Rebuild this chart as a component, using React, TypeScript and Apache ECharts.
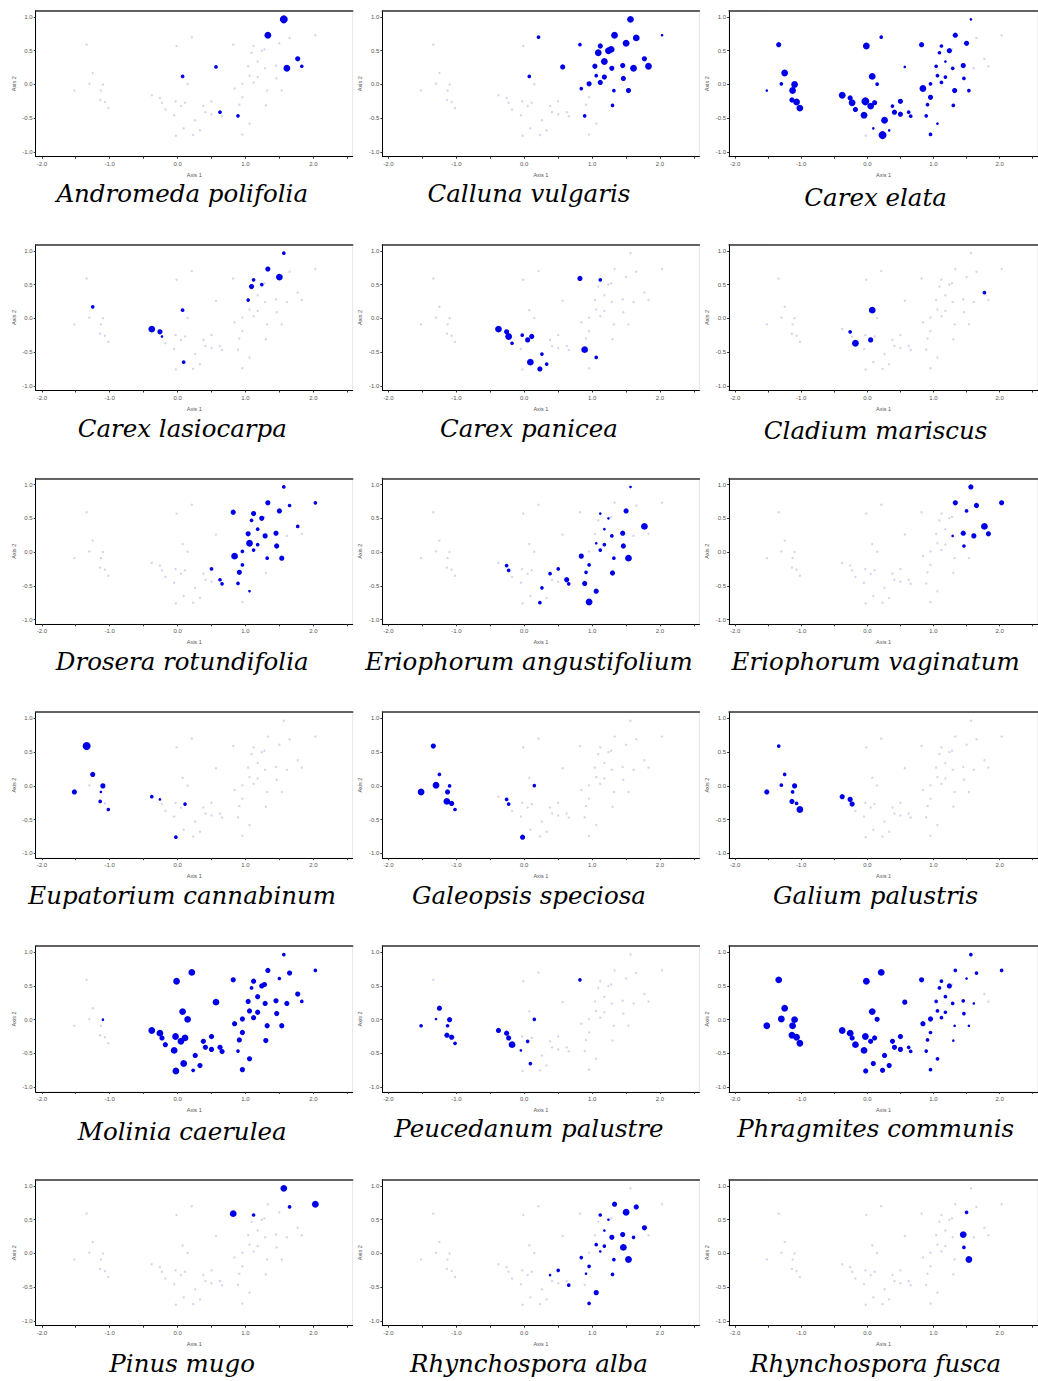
import React, { useEffect, useRef } from "react";
import * as echarts from "echarts";

// ---------- DATA ----------
const SPECIES: string[] = [
  "Andromeda polifolia", "Calluna vulgaris", "Carex elata",
  "Carex lasiocarpa", "Carex panicea", "Cladium mariscus",
  "Drosera rotundifolia", "Eriophorum angustifolium", "Eriophorum vaginatum",
  "Eupatorium cannabinum", "Galeopsis speciosa", "Galium palustris",
  "Molinia caerulea", "Peucedanum palustre", "Phragmites communis",
  "Pinus mugo", "Rhynchospora alba", "Rhynchospora fusca",
];

// Site ordination scores [Axis 1, Axis 2]
const SITES: [number, number][] = [
  [-1.34, 0.59], [-1.25, 0.17], [-1.30, 0.01], [-1.10, 0.00], [-1.52, -0.09],
  [-1.13, -0.09], [-1.14, -0.23], [-1.07, -0.26], [-1.02, -0.35],
  [1.565, 0.965], [2.03, 0.73], [1.33, 0.73], [1.65, 0.69], [0.21, 0.70],
  [-0.015, 0.57], [0.82, 0.59], [1.50, 0.61], [1.12, 0.57], [1.09, 0.47],
  [1.24, 0.50], [1.77, 0.38], [1.18, 0.34], [0.566, 0.26], [1.04, 0.27],
  [1.45, 0.28], [1.61, 0.24], [1.83, 0.27], [1.29, 0.24], [0.074, 0.12],
  [1.06, 0.13], [1.18, 0.11], [1.46, 0.09], [0.148, 0.005], [1.12, 0.03],
  [0.955, 0.01], [0.84, -0.06], [1.32, -0.09], [1.535, -0.09], [-0.38, -0.16],
  [-0.26, -0.20], [-0.23, -0.27], [-0.18, -0.37], [-0.03, -0.25], [0.11, -0.27],
  [0.05, -0.32], [-0.05, -0.455], [0.38, -0.32], [0.41, -0.41], [0.50, -0.25],
  [0.50, -0.44], [0.625, -0.41], [0.655, -0.47], [0.955, -0.19], [0.91, -0.30],
  [0.89, -0.465], [1.30, -0.31], [0.26, -0.53], [0.09, -0.65], [0.33, -0.68],
  [-0.025, -0.76], [0.23, -0.75], [0.955, -0.74], [1.06, -0.58], [1.28, 0.52],
];

// Occurrences: [site index, abundance class 1..5]
const ANDROMEDA: [number, number][] = [[9,5],[11,4],[20,3],[25,4],[26,2],[22,2],[28,2],[50,2],[54,2]];
const CALLUNA: [number, number][] = [[9,4],[10,1],[11,4],[12,4],[13,2],[15,2],[16,4],[17,3],[18,4],[19,4],[63,4],[20,3],[21,4],[22,3],[23,3],[24,3],[25,4],[26,4],[27,3],[28,2],[29,2],[30,3],[31,3],[33,3],[34,3],[35,2],[36,2],[37,3],[55,2],[54,2]];
const CAREX_ELATA: [number, number][] = [[0,3],[1,4],[2,2],[3,4],[4,1],[5,4],[6,3],[7,4],[8,4],[38,4],[39,3],[40,4],[41,3],[42,5],[43,3],[44,4],[45,4],[14,4],[13,2],[28,4],[32,2],[56,4],[60,5],[57,1],[58,1],[46,2],[47,3],[48,3],[49,3],[50,2],[51,2],[22,1],[15,3],[35,4],[52,3],[53,2],[54,2],[61,2],[34,2],[62,1],[18,2],[17,2],[23,2],[29,2],[33,2],[30,2],[21,1],[19,3],[27,2],[11,3],[36,3],[55,2],[24,3],[31,2],[16,3],[37,2],[9,1]];
const CAREX_LASIOCARPA: [number, number][] = [[9,2],[11,3],[16,4],[18,3],[17,2],[19,2],[23,2],[1,2],[28,2],[38,4],[39,3],[40,1],[57,2]];
const CAREX_PANICEA: [number, number][] = [[38,4],[39,3],[40,4],[41,2],[42,2],[44,3],[43,3],[57,4],[60,3],[56,2],[58,2],[15,3],[17,2],[54,4],[62,2]];
const CLADIUM: [number, number][] = [[28,4],[39,2],[41,4],[44,3],[20,2]];
const DROSERA: [number, number][] = [[9,2],[12,2],[10,2],[11,3],[16,3],[15,3],[17,3],[19,3],[18,2],[20,2],[21,2],[23,3],[27,3],[24,3],[29,4],[30,2],[31,3],[33,2],[34,2],[35,4],[36,2],[37,3],[52,2],[53,3],[48,2],[50,2],[51,2],[54,2],[62,1]];
const ERIO_ANGUST: [number, number][] = [[9,1],[16,3],[20,4],[24,3],[27,2],[30,2],[31,3],[33,2],[29,1],[35,3],[37,4],[36,2],[52,2],[53,2],[55,3],[54,3],[62,3],[61,4],[50,3],[51,2],[48,2],[46,2],[56,2],[60,2],[39,2],[40,2],[17,1],[19,1],[21,1]];
const ERIO_VAGIN: [number, number][] = [[9,3],[11,3],[12,3],[10,3],[16,2],[20,4],[24,3],[25,3],[26,3],[27,1],[31,2]];
const EUPATORIUM: [number, number][] = [[0,5],[1,3],[3,3],[4,3],[5,1],[6,2],[8,2],[38,2],[39,1],[43,2],[59,2]];
const GALEOPSIS: [number, number][] = [[0,3],[1,2],[2,4],[3,2],[4,4],[5,3],[6,4],[7,3],[8,2],[39,2],[40,2],[32,2],[59,3]];
const GALIUM: [number, number][] = [[0,2],[1,2],[2,2],[3,3],[4,3],[5,2],[6,3],[7,2],[8,4],[38,3],[39,3],[40,3]];
const MOLINIA: [number, number][] = [[3,1],[9,2],[10,2],[11,3],[12,3],[13,4],[14,4],[15,3],[16,2],[17,3],[18,2],[19,3],[20,3],[21,3],[22,4],[23,3],[24,3],[25,3],[26,2],[27,3],[28,4],[29,3],[30,3],[31,3],[32,4],[33,3],[34,3],[35,3],[36,3],[37,3],[38,4],[39,4],[40,3],[41,3],[42,4],[43,4],[44,4],[45,4],[46,3],[47,3],[48,3],[49,3],[50,3],[51,3],[52,3],[53,3],[54,2],[55,3],[56,3],[57,4],[58,3],[59,4],[60,2],[61,3],[62,3],[63,3]];
const PEUCEDANUM: [number, number][] = [[4,2],[1,3],[2,1],[3,3],[5,2],[6,3],[7,3],[8,2],[38,3],[39,3],[40,3],[41,4],[45,1],[44,2],[32,2],[57,2],[15,2]];
const PHRAGMITES: [number, number][] = [[0,4],[1,4],[2,4],[3,4],[4,4],[5,4],[6,4],[7,4],[8,4],[38,4],[39,4],[40,3],[41,4],[42,4],[44,3],[43,3],[45,4],[14,4],[13,4],[28,4],[32,3],[56,3],[57,3],[58,3],[59,3],[60,3],[46,3],[47,3],[48,3],[49,3],[50,2],[51,2],[22,3],[15,3],[35,3],[34,3],[52,2],[53,2],[54,2],[61,2],[62,2],[23,2],[29,2],[33,2],[30,2],[18,2],[17,2],[21,2],[19,3],[27,2],[55,1],[36,1],[11,2],[24,2],[31,2],[16,1],[37,1],[9,2],[12,2],[25,1],[10,2]];
const PINUS: [number, number][] = [[9,4],[10,4],[12,2],[15,4],[17,2]];
const RHYN_ALBA: [number, number][] = [[11,3],[12,3],[16,4],[17,2],[19,1],[21,1],[20,3],[24,3],[27,3],[25,2],[29,2],[30,2],[31,4],[36,2],[37,4],[33,1],[35,2],[52,2],[55,2],[53,1],[48,2],[51,2],[62,3],[61,2],[46,1]];
const RHYN_FUSCA: [number, number][] = [[16,2],[24,4],[31,2],[37,4]];

const OCCURRENCES = [
  ANDROMEDA, CALLUNA, CAREX_ELATA, CAREX_LASIOCARPA, CAREX_PANICEA, CLADIUM,
  DROSERA, ERIO_ANGUST, ERIO_VAGIN, EUPATORIUM, GALEOPSIS, GALIUM,
  MOLINIA, PEUCEDANUM, PHRAGMITES, PINUS, RHYN_ALBA, RHYN_FUSCA,
];

const X_TICKS = [-2, -1.5, -1, -0.5, 0, 0.5, 1, 1.5, 2, 2.5];
const X_LABELS = [-2, -1, 0, 1, 2];
const Y_TICKS = [-1, -0.5, 0, 0.5, 1];

// ---------- LAYOUT / STYLE ----------
const X_MIN = -2.09, X_MAX = 2.58, Y_MIN = -1.07, Y_MAX = 1.093;
const COL_LEFT0 = 35.7, COL_PITCH = 346.7, PLOT_W = 317;
const ROW_TOP0 = 10.7, ROW_PITCH = 233.8, PLOT_H = 146;
const TITLE_Y0 = 193;
const TITLE_NUDGE = [0, 0, 4, 2, 2, 4, 1, 1, 1, 1.5, 1.5, 1.5, 3, 0, 0, 1, 1, 1];
const SIZE_BY_CLASS = [0, 2.6, 3.7, 5.2, 6.8, 8.0];
const BLUE = "#0000e6";

export default function App() {
  const ref = useRef<HTMLDivElement>(null);

  useEffect(() => {
    if (!ref.current) return;
    const chart = echarts.init(ref.current, undefined, { renderer: "svg" });

    const grid: any[] = [];
    const xAxis: any[] = [];
    const yAxis: any[] = [];
    const series: any[] = [];
    const graphic: any[] = [];
    const labelStyle = { fontSize: 6, color: "#555", fontFamily: "Liberation Sans" };

    SPECIES.forEach((name, i) => {
      const col = i % 3;
      const row = Math.floor(i / 3);
      const left = COL_LEFT0 + col * COL_PITCH;
      const top = ROW_TOP0 + row * ROW_PITCH;
      grid.push({
        left, top, width: PLOT_W, height: PLOT_H,
        show: true, borderColor: "#e6e6e6", borderWidth: 1, backgroundColor: "#fff",
      });
      xAxis.push({
        gridIndex: i, type: "value", min: X_MIN, max: X_MAX, position: "bottom",
        name: "Axis 1", nameLocation: "middle", nameGap: 15,
        nameTextStyle: { ...labelStyle, fontSize: 5.5 },
        axisLine: { show: true, onZero: false, lineStyle: { color: "#000", width: 1 } },
        axisTick: { show: true, customValues: X_TICKS, length: 2, lineStyle: { color: "#333" } },
        axisLabel: { show: true, customValues: X_LABELS, formatter: (v: number) => v.toFixed(1), margin: 4, ...labelStyle },
        splitLine: { show: false },
      });
      xAxis.push({
        gridIndex: i, type: "value", min: X_MIN, max: X_MAX, position: "top",
        axisLine: { show: true, onZero: false, lineStyle: { color: "#333", width: 1.5 } },
        axisTick: { show: false }, axisLabel: { show: false }, splitLine: { show: false },
      });
      yAxis.push({
        gridIndex: i, type: "value", min: Y_MIN, max: Y_MAX,
        name: "Axis 2", nameLocation: "middle", nameGap: 19, nameRotate: 90,
        nameTextStyle: { ...labelStyle, fontSize: 5.5 },
        axisLine: { show: true, onZero: false, lineStyle: { color: "#000", width: 1 } },
        axisTick: { show: true, customValues: Y_TICKS, length: 2, lineStyle: { color: "#333" } },
        axisLabel: { show: true, customValues: Y_TICKS, formatter: (v: number) => v.toFixed(1), margin: 3, ...labelStyle },
        splitLine: { show: false },
      });
      series.push({
        type: "scatter", xAxisIndex: 2 * i, yAxisIndex: i, silent: true, z: 1,
        symbol: "circle", symbolSize: 2.4,
        itemStyle: { color: "rgba(150,150,205,0.4)", opacity: 1 },
        data: SITES.map(([x, y]) => [x, y]),
      });
      series.push({
        type: "scatter", xAxisIndex: 2 * i, yAxisIndex: i, z: 3,
        symbol: "circle",
        symbolSize: (v: number[]) => SIZE_BY_CLASS[v[2]],
        itemStyle: { color: BLUE, opacity: 1 },
        data: OCCURRENCES[i].map(([s, a]) => [SITES[s][0], SITES[s][1], a]),
      });
      graphic.push({
        type: "text",
        x: left + 146.5,
        y: TITLE_Y0 + row * ROW_PITCH + TITLE_NUDGE[i],
        style: {
          text: name,
          fill: "#000",
          font: 'italic 24.5px "DejaVu Serif"',
          align: "center", verticalAlign: "middle",
          textAlign: "center", textVerticalAlign: "middle",
        },
      });
    });

    chart.setOption({
      animation: false,
      backgroundColor: "#fff",
      grid, xAxis, yAxis, series, graphic,
    });
    return () => chart.dispose();
  }, []);

  return (
    <div
      ref={ref}
      style={{ position: "absolute", left: 0, top: 0, width: 1038, height: 1381, background: "#fff" }}
    />
  );
}
